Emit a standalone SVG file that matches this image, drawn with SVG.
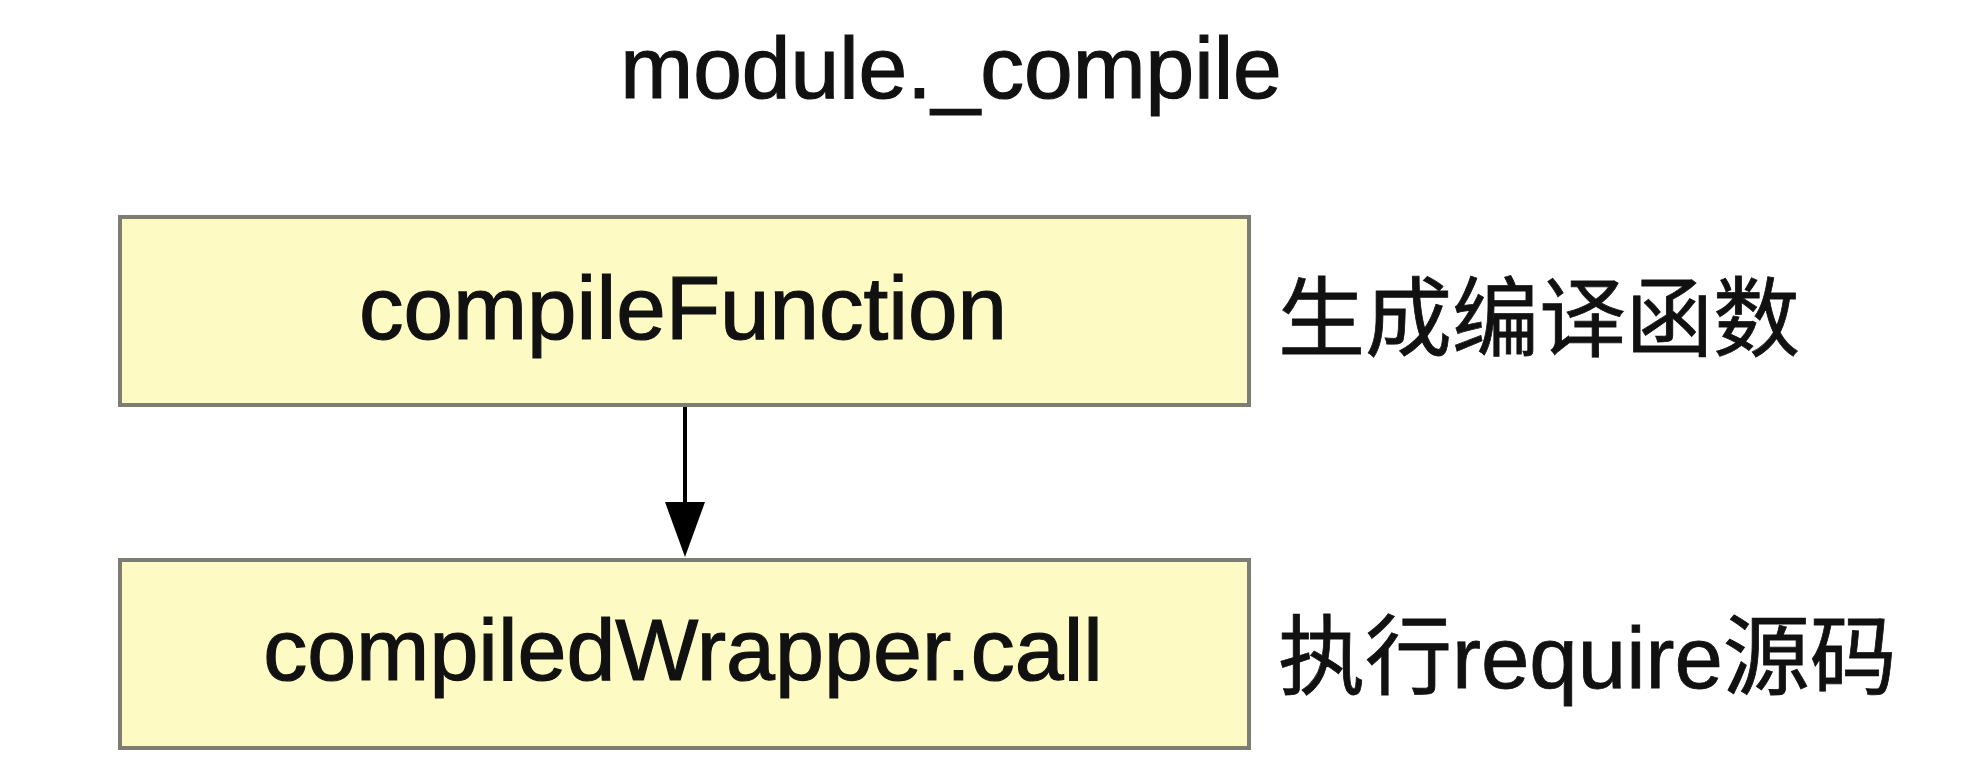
<svg xmlns="http://www.w3.org/2000/svg" width="1962" height="776" viewBox="0 0 1962 776">
<style>
.box{fill:#fdfac4;stroke:#7d7d74;stroke-width:4}
.t{font-family:"Liberation Sans","Noto Sans CJK SC",sans-serif;font-size:89px;fill:#111;stroke:#111;stroke-width:1.2;text-anchor:middle}
.title{font-size:87.5px}
.lbl{font-family:"Liberation Sans","Noto Sans CJK SC",sans-serif;font-size:87px;fill:#111;stroke:#111;stroke-width:0.8}
.edge{stroke:#000;stroke-width:4;fill:none}
</style>
<rect width="1962" height="776" fill="#fff"/>
<text class="t title" x="951" y="98">module._compile</text>
<g id="connectors">
<path class="edge" d="M685,405 L685,506"/>
<polygon points="665,502 705,502 685,557" fill="#000"/>
</g>
<g id="node-compileFunction">
<rect class="box" x="120" y="217" width="1129" height="188"/>
<text class="t" x="683" y="339">compileFunction</text>
</g>
<g id="node-compiledWrapper">
<rect class="box" x="120" y="560" width="1129" height="188"/>
<text class="t" x="683" y="680" style="font-size:88px">compiledWrapper.call</text>
</g>
<g id="label-1">
<text class="lbl" x="1278" y="350">生成编译函数</text>
</g>
<g id="label-2">
<text class="lbl" x="1278" y="688">执行require源码</text>
</g>
</svg>
